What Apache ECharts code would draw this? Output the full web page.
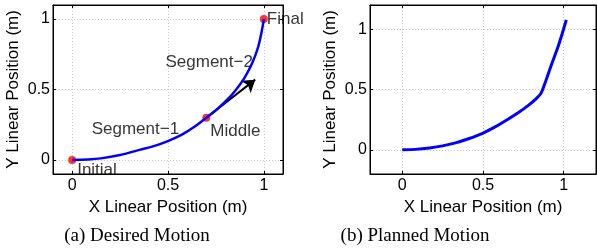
<!DOCTYPE html>
<html><head><meta charset="utf-8">
<script src="https://cdn.jsdelivr.net/npm/echarts@6/dist/echarts.min.js"></script>
<style>html,body{margin:0;padding:0;background:#fff}#c{width:597px;height:251px}</style>
</head><body><div id="c"></div>
<script>
// ---- data ----
const tickValues = [0, 0.5, 1];
const desiredSeg1 = [[0,0],[0.08,0.003],[0.15,0.011],[0.25,0.035],[0.357,0.073],[0.43,0.1],[0.496,0.132],[0.57,0.178],[0.634,0.232],[0.70,0.30]];
const desiredSeg2 = [[0.70,0.30],[0.75,0.353],[0.80,0.415],[0.85,0.49],[0.90,0.585],[0.94,0.69],[0.97,0.80],[0.99,0.92],[1.0,1.0]];
const keyPoints = [[0,0,'Initial'],[0.7,0.3,'Middle'],[1,1,'Final']];
const segmentLabels = [[0.33,0.215,'Segment\u22121'],[0.715,0.696,'Segment\u22122']];
const arrowFrom = [0.7,0.3];
const arrowTo = [0.955,0.57];
const planned = [[0,0],[0.08,0.004],[0.169,0.016],[0.25,0.033],[0.33,0.058],[0.41,0.092],[0.494,0.135],[0.575,0.19],[0.657,0.256],[0.72,0.31],[0.779,0.366],[0.83,0.425],[0.86,0.47],[0.89,0.575],[0.92,0.69],[0.962,0.843],[0.99,0.96],[1.016,1.077]];
const captions = ['(a) Desired Motion','(b) Planned Motion'];
const xName = 'X Linear Position (m)';
const yName = 'Y Linear Position (m)';

const FONT = 'Liberation Sans';
function mkX(gi, min, max, top){
  return {
    type:'value', gridIndex:gi, min:min, max:max, position: top?'top':'bottom',
    name: top?'':xName, nameLocation:'middle', nameGap:16,
    nameTextStyle:{fontFamily:FONT,fontSize:17,color:'#000'},
    axisLine:{show:true,onZero:false,lineStyle:{color:'#000',width:1}},
    axisTick:{show:true,inside:true,length:3,customValues:tickValues,lineStyle:{color:'#000'}},
    axisLabel:{show:!top,customValues:tickValues,margin:4,fontFamily:FONT,fontSize:16,color:'#000',
      formatter:v=>String(v)},
    splitLine:{show:!top,lineStyle:{color:'#c8c8c8',type:[1,2],width:1}}
  };
}
function mkY(gi, min, max, right){
  return {
    type:'value', gridIndex:gi, min:min, max:max, position: right?'right':'left',
    name: right?'':yName, nameLocation:'middle', nameGap:31,
    nameTextStyle:{fontFamily:FONT,fontSize:17,color:'#000'},
    axisLine:{show:true,onZero:false,lineStyle:{color:'#000',width:1}},
    axisTick:{show:true,inside:true,length:3,customValues:tickValues,lineStyle:{color:'#000'}},
    axisLabel:{show:!right,customValues:tickValues,margin:3,fontFamily:FONT,fontSize:16,color:'#000',
      formatter:v=>String(v)},
    splitLine:{show:!right,lineStyle:{color:'#c8c8c8',type:[1,2],width:1}}
  };
}

const chart = echarts.init(document.getElementById('c'), null, {renderer:'canvas'});
chart.setOption({
  animation:false,
  backgroundColor:'#fff',
  grid:[
    {left:53,right:314,top:5,bottom:77,show:true,borderColor:'#000',borderWidth:1},
    {left:370,right:1,top:5,bottom:77,show:true,borderColor:'#000',borderWidth:1}
  ],
  xAxis:[mkX(0,-0.1,1.1,false),mkX(0,-0.1,1.1,true),mkX(1,-0.2,1.2,false),mkX(1,-0.2,1.2,true)],
  yAxis:[mkY(0,-0.1,1.1,false),mkY(0,-0.1,1.1,true),mkY(1,-0.2,1.2,false),mkY(1,-0.2,1.2,true)],
  series:[
    {type:'line',xAxisIndex:0,yAxisIndex:0,data:desiredSeg1,smooth:0.3,showSymbol:false,
      lineStyle:{color:'#0000ff',width:2.5}},
    {type:'line',xAxisIndex:0,yAxisIndex:0,data:desiredSeg2,smooth:0.3,showSymbol:false,
      lineStyle:{color:'#0000ff',width:2.5}},
    {type:'lines',coordinateSystem:'cartesian2d',xAxisIndex:0,yAxisIndex:0,
      symbol:['none','arrow'],symbolSize:12,
      lineStyle:{color:'#000',width:2,opacity:1},
      data:[{coords:[arrowFrom,arrowTo]}]},
    {type:'scatter',xAxisIndex:0,yAxisIndex:0,symbolSize:8,itemStyle:{color:'#ff0000'},
      data:keyPoints.map(p=>({value:[p[0],p[1]],name:p[2]})),
      label:{show:true,formatter:p=>p.name,fontFamily:FONT,fontSize:17,color:'#000',
        textBorderWidth:0,position:'right',distance:0},
      labelLayout:function(params){
        const offs = {0:[5,10],1:[4,14],2:[3,0]};
        const o = offs[params.dataIndex];
        return {x:params.rect.x+params.rect.width/2+o[0], y:params.rect.y+params.rect.height/2+o[1],
          align:'left',verticalAlign:'middle'};
      }},
    {type:'scatter',xAxisIndex:0,yAxisIndex:0,symbolSize:0,silent:true,
      itemStyle:{color:'#000'},
      data:segmentLabels.map(p=>({value:[p[0],p[1]],name:p[2]})),
      label:{show:true,position:'inside',formatter:p=>p.name,fontFamily:FONT,fontSize:17,color:'#000',
        textBorderWidth:0}},
    {type:'line',xAxisIndex:2,yAxisIndex:2,data:planned,smooth:0.2,showSymbol:false,
      lineStyle:{color:'#0000ff',width:3}}
  ],
  graphic:[
    {type:'text',x:137,y:236,style:{text:captions[0],fontFamily:'Liberation Serif',fontSize:19,fill:'#000',align:'center',verticalAlign:'middle'}},
    {type:'text',x:415,y:236,style:{text:captions[1],fontFamily:'Liberation Serif',fontSize:19,fill:'#000',align:'center',verticalAlign:'middle'}}
  ]
});
</script></body></html>
